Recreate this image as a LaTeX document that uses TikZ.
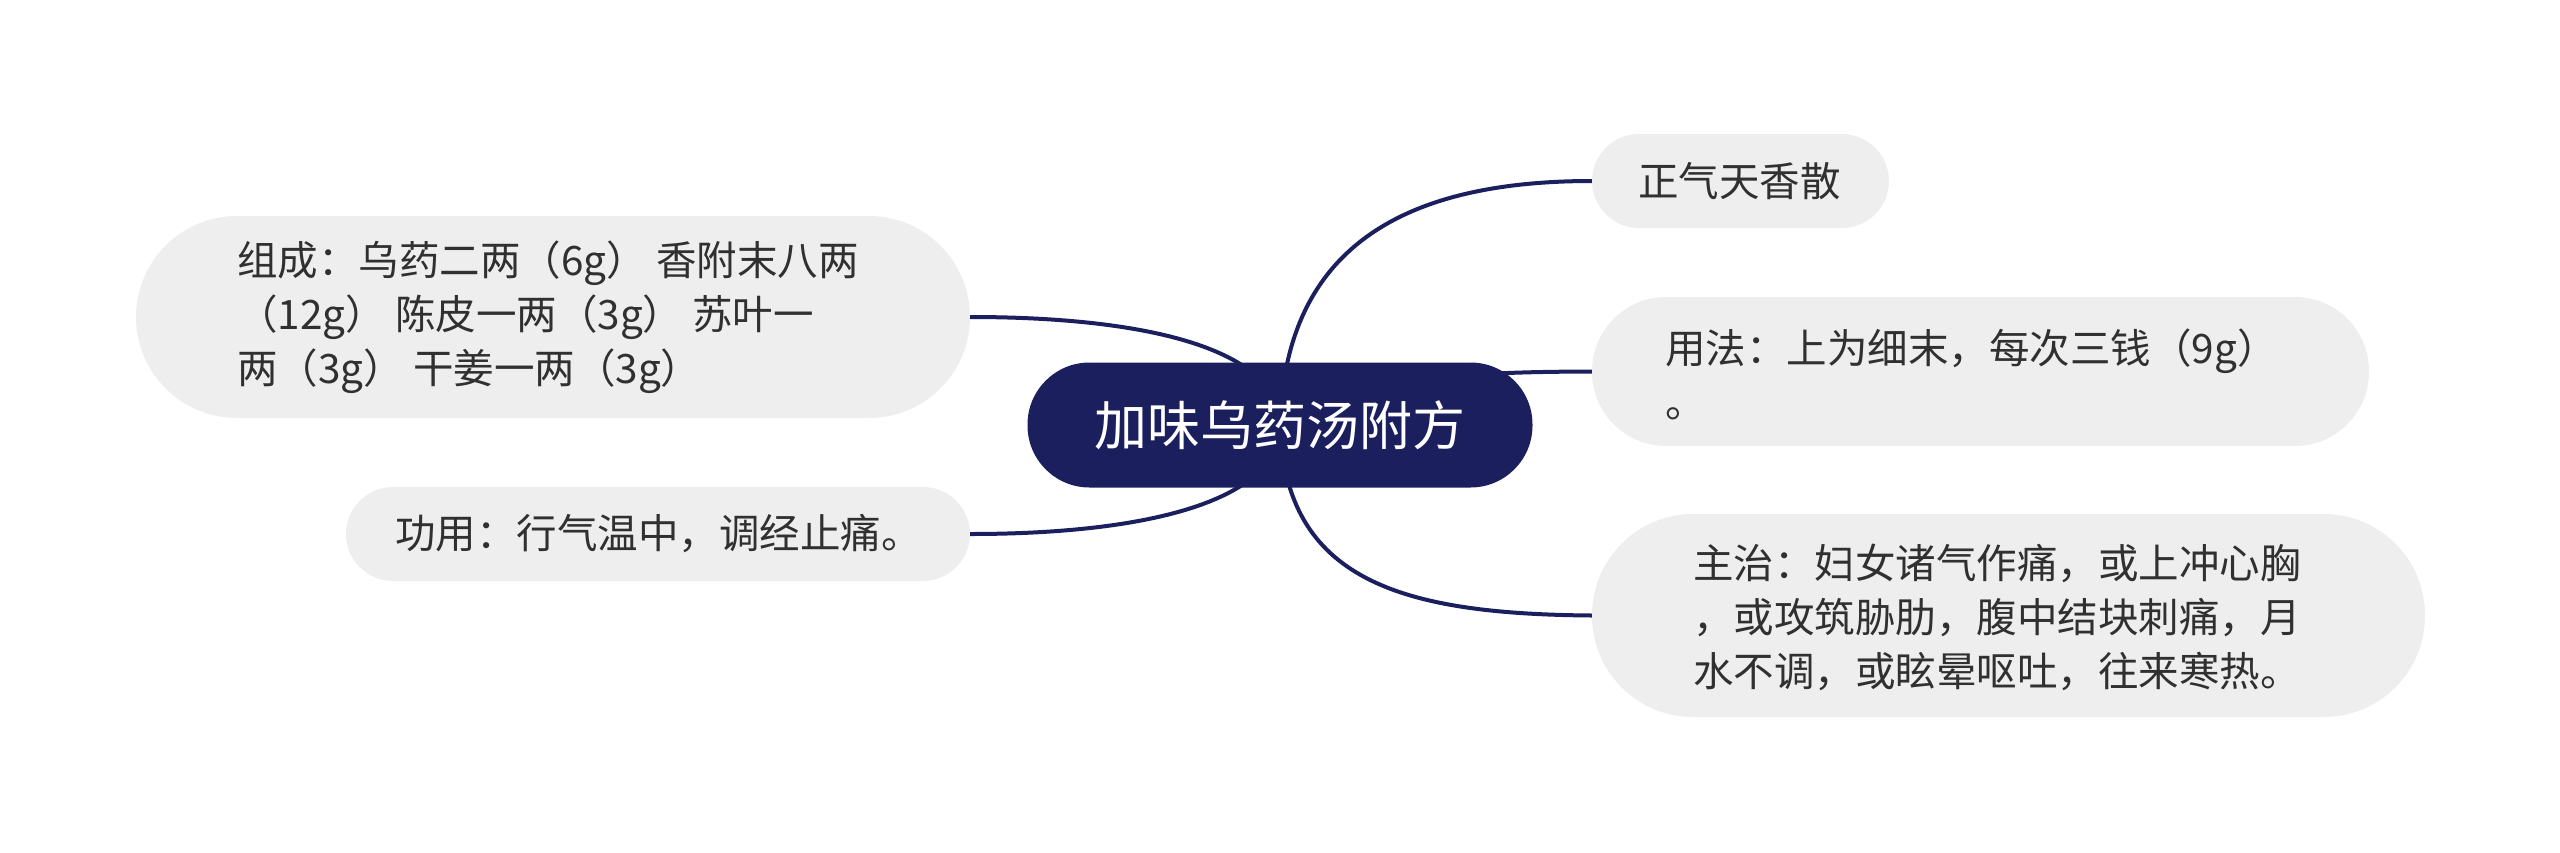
\documentclass[tikz,border=0pt]{standalone}
\usepackage{fontspec}
\setmainfont{Noto Sans CJK SC}
\definecolor{navy}{HTML}{1B1F5E}
\definecolor{boxgray}{HTML}{EEEEEE}
\definecolor{txt}{HTML}{303030}
\tikzset{
  conn/.style={draw=navy, line width=4pt},
  topicbox/.style={fill=boxgray, draw=none, inner sep=0pt},
  topictext/.style={anchor=west, align=left, inner sep=0pt, text=txt,
    font=\fontsize{40.5pt}{54pt}\selectfont},
}
\begin{document}
\begin{tikzpicture}[x=1pt,y=-1pt]
\useasboundingbox (0,0) rectangle (2560,852);
% boxes
\node[topicbox, rounded corners=101pt, minimum width=834pt, minimum height=202pt] (l1) at (553,317) {};
\node[topicbox, rounded corners=47pt, minimum width=624pt, minimum height=94pt] (l2) at (658,534) {};
\node[topicbox, rounded corners=47pt, minimum width=297pt, minimum height=94pt] (r1) at (1740.5,181) {};
\node[topicbox, rounded corners=74pt, minimum width=777pt, minimum height=149pt] (r2) at (1980.5,371.5) {};
\node[topicbox, rounded corners=101pt, minimum width=833pt, minimum height=203pt] (r3) at (2008.5,615.5) {};
% connectors
\coordinate (rc) at (1280,425);
\draw[conn] (rc) .. controls (1285,250) and (1400,181) .. (r1.west);
\draw[conn] (rc) .. controls (1380,378) and (1450,372) .. (r2.west);
\draw[conn] (rc) .. controls (1285,580) and (1400,614) .. (r3.west);
\draw[conn] (rc) .. controls (1280,350) and (1150,317) .. (l1.east);
\draw[conn] (rc) .. controls (1280,500) and (1150,534) .. (l2.east);
% root
\node[fill=navy, rounded corners=62pt, minimum width=505pt, minimum height=125pt, inner sep=0pt,
  text=white, font=\fontsize{53pt}{60pt}\selectfont] (root) at (1280,425) {加味乌药汤附方};
% texts
\node[topictext] (l1t) at (237,317) {组成：乌药二两（6g） 香附末八两\\（12g） 陈皮一两（3g） 苏叶一\\两（3g） 干姜一两（3g）};
\node[topictext] (l2t) at (395,534) {功用：行气温中，调经止痛。};
\node[topictext] (r1t) at (1638,181) {正气天香散};
\node[topictext] (r2t) at (1665,374) {用法：上为细末，每次三钱（9g）\\。};
\node[topictext] (r3t) at (1693,617) {主治：妇女诸气作痛，或上冲心胸\\，或攻筑胁肋，腹中结块刺痛，月\\水不调，或眩晕呕吐，往来寒热。};
\end{tikzpicture}
\end{document}
